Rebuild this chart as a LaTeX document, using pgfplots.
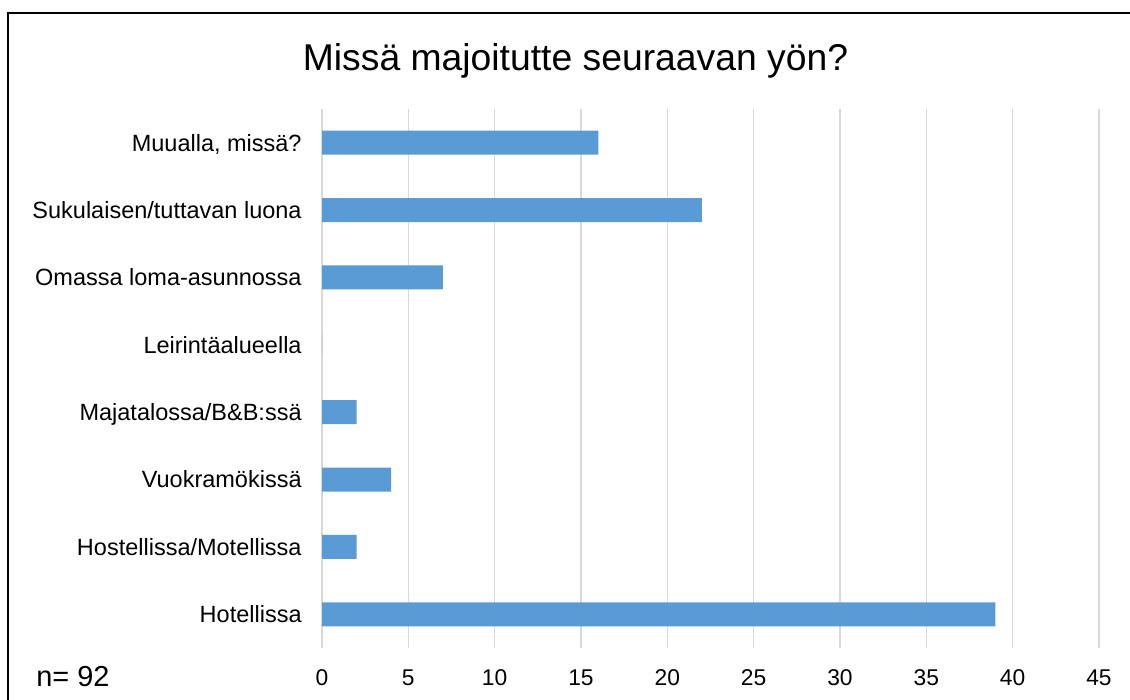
\documentclass[border=0pt]{standalone}
\usepackage{pgfplots}
\pgfplotsset{compat=1.18}
\usepackage{fontspec}
\setmainfont{Liberation Sans}
\definecolor{barblue}{HTML}{5B9BD5}
\definecolor{gridgray}{HTML}{D9D9D9}
\begin{document}
\begin{tikzpicture}
\path[use as bounding box, fill=white] (0,0) rectangle (565pt,350pt);
% frame (top and left lines)
\draw[line width=1pt, black] (4pt,0pt) -- (4pt,343.5pt) -- (565pt,343.5pt);
% title
\node[anchor=base, inner sep=0pt, font=\fontsize{18.65pt}{22pt}\selectfont] at (287.75pt,314.75pt) {Missä majoitutte seuraavan yön?};
% n
\node[anchor=base west, inner sep=0pt, font=\fontsize{14.45pt}{17pt}\selectfont] at (18pt,6.5pt) {n= 92};
\begin{axis}[
  at={(161pt,26pt)}, anchor=south west,
  scale only axis, width=388.5pt, height=269.5pt,
  xbar, bar width=12pt,
  xmin=0, xmax=45, ymin=-0.5, ymax=7.5,
  xtick={0,5,...,45},
  ytick={0,...,7},
  yticklabels={Hotellissa,Hostellissa/Motellissa,Vuokramökissä,Majatalossa/B\&B:ssä,Leirintäalueella,Omassa loma-asunnossa,Sukulaisen/tuttavan luona,{Muualla, missä?}},
  axis line style={draw=none},
  major tick length=0pt,
  xmajorgrids, ymajorgrids=false,
  grid style={gridgray, line width=0.8pt},
  xticklabel style={anchor=base, inner sep=0pt, yshift=-19pt, font=\fontsize{11.4pt}{13pt}\selectfont},
  yticklabel style={anchor=base east, inner sep=0pt, xshift=-10pt, yshift=-4.2pt, font=\fontsize{11.75pt}{14pt}\selectfont},
  /pgf/number format/assume math mode=true,
  clip=false,
]
\addplot[fill=barblue, draw=none] coordinates {
(39,0) (2,1) (4,2) (2,3) (0,4) (7,5) (22,6) (16,7)
};
\end{axis}
\end{tikzpicture}
\end{document}
